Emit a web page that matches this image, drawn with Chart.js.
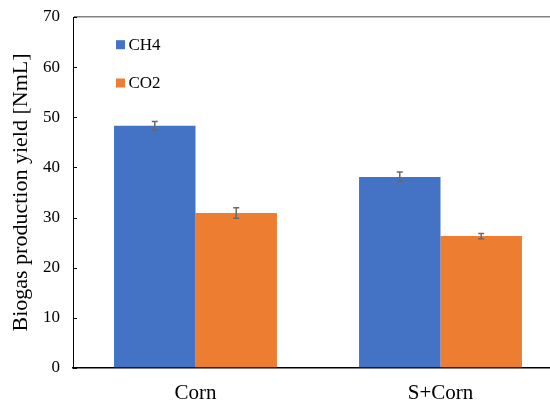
<!DOCTYPE html>
<html>
<head>
<meta charset="utf-8">
<script src="https://cdn.jsdelivr.net/npm/chart.js@4.4.1/dist/chart.umd.min.js"></script>
<style>
html,body{margin:0;padding:0;background:#fff;overflow:hidden;width:550px;height:401px;}
#wrap{position:absolute;left:0;top:0;width:563px;height:401px;}
</style>
</head>
<body>
<div id="wrap"><canvas id="c" width="563" height="401"></canvas></div>
<script>
const categories = ["Corn", "S+Corn"];
const seriesNames = ["CH4", "CO2"];
const ch4Values = [48.3, 38.1];
const co2Values = [30.9, 26.3];
const ch4Errors = [0.85, 1.0];
const co2Errors = [1.05, 0.5];
const yTicks = [0, 10, 20, 30, 40, 50, 60, 70];
const yTitle = "Biogas production yield [NmL]";

const FONT = "'Liberation Serif', 'Times New Roman', serif";
const errors = [ch4Errors, co2Errors];

const extras = {
  id: 'extras',
  afterDatasetsDraw(chart) {
    const ctx = chart.ctx;
    const ys = chart.scales.y;
    const area = chart.chartArea;
    chart.data.datasets.forEach((ds, di) => {
      const meta = chart.getDatasetMeta(di);
      meta.data.forEach((bar, i) => {
        const v = ds.data[i], e = errors[di][i];
        const yt = ys.getPixelForValue(v + e), yb = ys.getPixelForValue(v - e);
        const x = bar.x;
        ctx.save();
        ctx.strokeStyle = '#6a6a6a';
        ctx.lineWidth = 1.5;
        ctx.beginPath();
        ctx.moveTo(x, yt); ctx.lineTo(x, yb);
        ctx.moveTo(x - 3, yt); ctx.lineTo(x + 3, yt);
        ctx.moveTo(x - 3, yb); ctx.lineTo(x + 3, yb);
        ctx.stroke();
        ctx.restore();
      });
    });
    ctx.save();
    ctx.strokeStyle = '#000';
    ctx.lineWidth = 1;
    yTicks.forEach(t => {
      const y = Math.round(ys.getPixelForValue(t)) + 0.5;
      ctx.beginPath();
      ctx.moveTo(area.left, y); ctx.lineTo(area.left + 4, y);
      ctx.stroke();
    });
    ctx.restore();
    ctx.save();
    ctx.font = "17px " + FONT;
    ctx.textBaseline = 'middle';
    const ly = [44.7, 83];
    chart.data.datasets.forEach((ds, di) => {
      ctx.fillStyle = ds.backgroundColor;
      ctx.fillRect(116, ly[di] - 4.5, 9, 9);
      ctx.fillStyle = '#000';
      ctx.fillText(ds.label, 128.5, ly[di] + 0.5);
    });
    ctx.restore();
  }
};

new Chart(document.getElementById('c'), {
  type: 'bar',
  data: {
    labels: categories,
    datasets: [
      { label: seriesNames[0], data: ch4Values, backgroundColor: '#4472C4', borderWidth: 0 },
      { label: seriesNames[1], data: co2Values, backgroundColor: '#ED7D31', borderWidth: 0 }
    ]
  },
  options: {
    responsive: false,
    animation: false,
    devicePixelRatio: 1,
    layout: { padding: { top: 17, right: 0, left: 0, bottom: 0 } },
    plugins: { legend: { display: false }, tooltip: { enabled: false } },
    datasets: { bar: { categoryPercentage: 0.665, barPercentage: 1.0 } },
    scales: {
      x: {
        grid: { display: true, drawOnChartArea: false, drawTicks: false },
        border: { display: true, color: '#000', width: 1.5 },
        ticks: { color: '#000', font: { family: FONT, size: 21 }, padding: 13 },
        afterFit(scale) { scale.height = 33; scale.paddingLeft = 0; scale.paddingRight = 0; }
      },
      y: {
        min: 0, max: 70,
        afterBuildTicks(scale) { scale.ticks = yTicks.map(v => ({ value: v })); },
        grid: {
          drawTicks: false,
          color: (c) => (c.tick && c.tick.value === 70) ? '#808080' : 'rgba(0,0,0,0)',
          lineWidth: 1.5
        },
        border: { display: true, color: '#000', width: 1 },
        ticks: { color: '#000', font: { family: FONT, size: 17 }, padding: 13 },
        title: { display: true, text: yTitle, color: '#000', font: { family: FONT, size: 22 }, padding: { top: 8, bottom: 0 } },
        afterFit(scale) { scale.width = 73; scale.paddingTop = 0; scale.paddingBottom = 0; }
      }
    }
  },
  plugins: [extras]
});
</script>
</body>
</html>
